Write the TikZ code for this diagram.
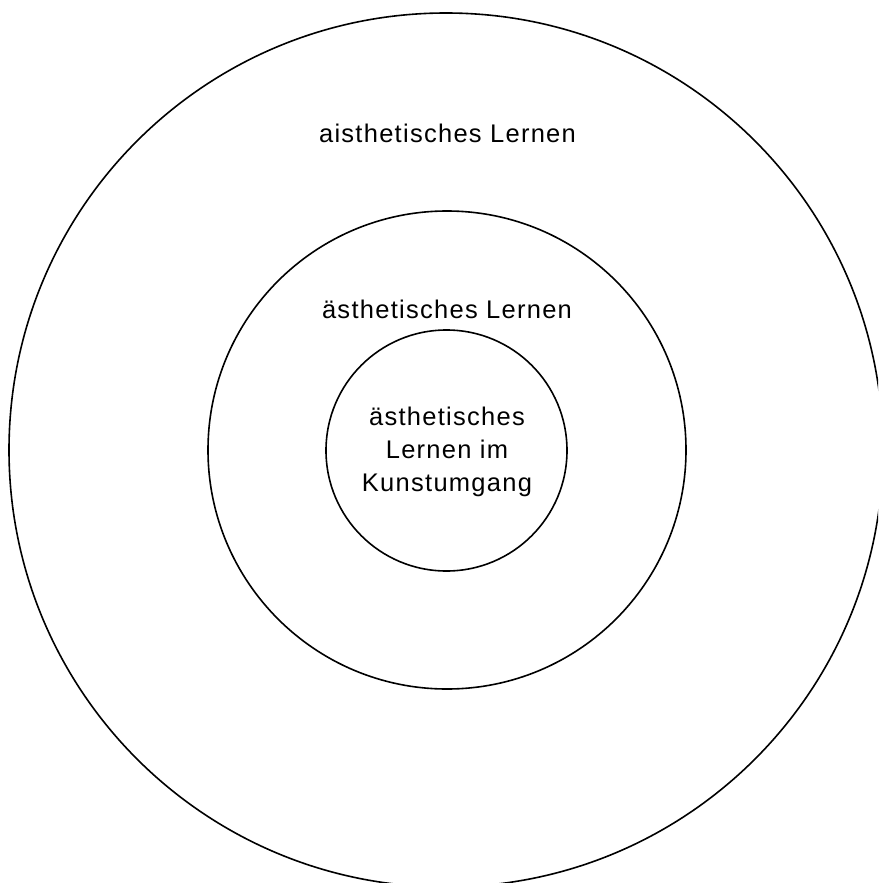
\documentclass[tikz,border=0pt]{standalone}
\usepackage{fontspec}
\setmainfont[LetterSpace=5]{Liberation Sans}
\begin{document}
\begin{tikzpicture}[x=1pt,y=-1pt,
  ring/.style={draw=black,line width=1.6pt},
  label/.style={font=\fontsize{25.5}{33}\selectfont,inner sep=0pt,align=center}]
\useasboundingbox (0,0) rectangle (878,883);
\clip (0,0) rectangle (878,883);
\fill[white] (0,0) rectangle (878,883);
\draw[ring] (446,450) circle[radius=437];
\draw[ring] (447,450) circle[radius=239];
\draw[ring] (446.5,450.5) circle[radius=120.5];
\node[label,anchor=base] (outer) at (447.5,142) {aisthetisches Lernen};
\node[label,anchor=base] (middle) at (447,318) {ästhetisches Lernen};
\node[label,anchor=center] (inner) at (447,452) {ästhetisches\\Lernen im\\Kunstumgang};
\end{tikzpicture}
\end{document}
